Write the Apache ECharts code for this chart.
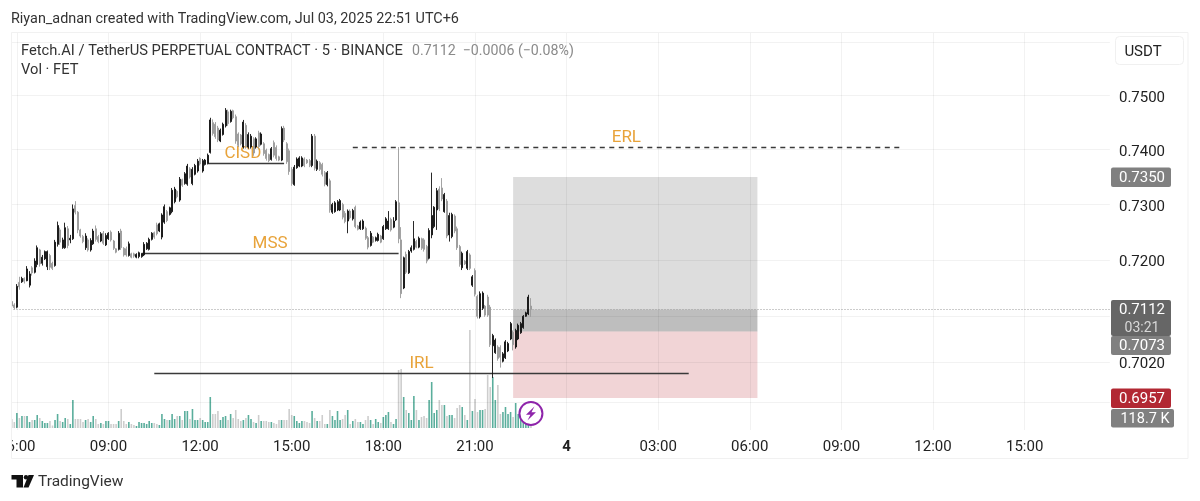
<!DOCTYPE html>
<html><head><meta charset="utf-8">
<script src="https://cdn.jsdelivr.net/npm/echarts@6/dist/echarts.min.js"></script>
<style>html,body{margin:0;padding:0;background:#fff}#c{width:1200px;height:501px}</style>
</head><body><div id="c"></div>
<script>
const opens=[.7126,.7120,.7116,.7160,.7161,.7167,.7163,.7155,.7186,.7178,.7192,.7218,.7194,.7202,.7188,.7208,.7194,.7190,.7228,.7254,.7222,.7222,.7256,.7236,.7238,.7298,.7286,.7254,.7242,.7222,.7236,.7218,.7229,.7256,.7242,.7234,.7248,.7227,.7238,.7250,.7234,.7220,.7219,.7252,.7221,.7220,.7208,.7211,.7211,.7205,.7206,.7206,.7209,.7220,.7219,.7237,.7249,.7263,.7252,.7241,.7268,.7287,.7282,.7287,.7305,.7324,.7308,.7345,.7338,.7337,.7365,.7338,.7355,.7361,.7384,.7361,.7373,.7375,.7395,.7450,.7447,.7440,.7416,.7428,.7444,.7470,.7452,.7472,.7461,.7429,.7427,.7405,.7445,.7405,.7405,.7420,.7405,.7431,.7410,.7411,.7399,.7391,.7382,.7413,.7404,.7387,.7381,.7440,.7411,.7398,.7364,.7336,.7367,.7370,.7370,.7383,.7381,.7380,.7371,.7425,.7364,.7376,.7373,.7358,.7336,.7343,.7286,.7287,.7290,.7290,.7300,.7284,.7270,.7288,.7274,.7295,.7261,.7256,.7256,.7257,.7240,.7226,.7241,.7235,.7235,.7243,.7238,.7256,.7256,.7273,.7259,.7272,.7303,.7236,.7150,.7210,.7177,.7216,.7219,.7233,.7223,.7238,.7236,.7224,.7203,.7245,.7260,.7290,.7328,.7330,.7287,.7306,.7245,.7242,.7279,.7256,.7224,.7186,.7198,.7185,.7209,.7155,.7181,.7135,.7099,.7114,.7118,.7134,.7116,.7048,.7036,.7046,.7045,.7021,.7027,.7039,.7060,.7072,.7046,.7060,.7071,.7080,.7100,.7104,.7118];
const closes=[.7118,.7115,.7153,.7152,.7167,.7162,.7184,.7175,.7177,.7198,.7222,.7193,.7205,.7215,.7215,.7187,.7185,.7232,.7262,.7232,.7236,.7258,.7226,.7239,.7292,.7286,.7254,.7243,.7233,.7243,.7218,.7235,.7252,.7237,.7233,.7247,.7230,.7244,.7248,.7236,.7221,.7214,.7248,.7222,.7209,.7209,.7229,.7205,.7207,.7210,.7213,.7211,.7228,.7230,.7237,.7248,.7241,.7247,.7265,.7281,.7296,.7271,.7294,.7326,.7328,.7314,.7346,.7335,.7356,.7370,.7350,.7364,.7371,.7379,.7374,.7380,.7381,.7390,.7455,.7430,.7424,.7418,.7436,.7447,.7473,.7448,.7471,.7459,.7416,.7408,.7411,.7451,.7406,.7428,.7425,.7394,.7420,.7406,.7429,.7393,.7384,.7380,.7402,.7390,.7384,.7381,.7439,.7418,.7378,.7360,.7338,.7368,.7383,.7385,.7385,.7371,.7376,.7371,.7425,.7366,.7379,.7364,.7355,.7337,.7358,.7290,.7300,.7303,.7305,.7307,.7277,.7269,.7288,.7276,.7289,.7260,.7255,.7268,.7270,.7239,.7223,.7248,.7232,.7240,.7246,.7232,.7260,.7274,.7270,.7254,.7270,.7305,.7238,.7140,.7204,.7178,.7215,.7222,.7238,.7223,.7239,.7221,.7219,.7198,.7253,.7280,.7295,.7325,.7292,.7310,.7318,.7243,.7280,.7282,.7252,.7222,.7192,.7212,.7193,.7215,.7185,.7170,.7139,.7100,.7140,.7141,.7102,.7102,.7050,.7066,.7058,.7026,.7028,.7034,.7055,.7052,.7087,.7050,.7075,.7084,.7087,.7100,.7106,.7134,.7112];
const lows=[.7114,.7112,.7114,.7147,.7159,.7158,.7162,.7151,.7172,.7176,.7187,.7188,.7190,.7200,.7182,.7182,.7182,.7188,.7224,.7227,.7220,.7220,.7221,.7230,.7236,.7282,.7248,.7240,.7230,.7218,.7215,.7215,.7227,.7233,.7230,.7232,.7227,.7225,.7236,.7233,.7218,.7212,.7217,.7218,.7206,.7206,.7206,.7203,.7204,.7203,.7203,.7204,.7207,.7218,.7217,.7235,.7238,.7244,.7250,.7237,.7265,.7268,.7280,.7284,.7302,.7311,.7305,.7332,.7336,.7334,.7347,.7335,.7353,.7358,.7371,.7358,.7371,.7373,.7393,.7426,.7420,.7414,.7414,.7426,.7441,.7444,.7450,.7456,.7411,.7405,.7408,.7402,.7402,.7402,.7402,.7389,.7402,.7402,.7408,.7389,.7380,.7377,.7380,.7386,.7380,.7379,.7379,.7414,.7374,.7354,.7334,.7334,.7365,.7368,.7368,.7368,.7374,.7368,.7368,.7362,.7361,.7361,.7351,.7333,.7333,.7285,.7283,.7285,.7288,.7288,.7273,.7266,.7248,.7273,.7271,.7257,.7253,.7254,.7254,.7236,.7219,.7224,.7230,.7233,.7233,.7230,.7236,.7254,.7254,.7251,.7257,.7270,.7230,.7132,.7148,.7175,.7175,.7213,.7217,.7221,.7221,.7218,.7215,.7194,.7201,.7239,.7257,.7254,.7288,.7306,.7285,.7239,.7233,.7239,.7248,.7218,.7188,.7182,.7191,.7182,.7182,.7152,.7135,.7096,.7096,.7111,.7099,.7099,.7046,.6992,.7034,.7022,.7010,.7019,.7025,.7037,.7058,.7040,.7043,.7058,.7069,.7078,.7099,.7102,.7099];
const highs=[.7129,.7123,.7157,.7170,.7170,.7169,.7189,.7180,.7189,.7203,.7226,.7220,.7209,.7217,.7217,.7211,.7197,.7236,.7269,.7258,.7240,.7267,.7261,.7245,.7300,.7306,.7288,.7256,.7245,.7248,.7239,.7239,.7256,.7262,.7245,.7250,.7252,.7248,.7250,.7253,.7236,.7221,.7252,.7256,.7223,.7224,.7233,.7213,.7213,.7212,.7215,.7212,.7232,.7232,.7240,.7250,.7251,.7267,.7267,.7284,.7300,.7290,.7296,.7330,.7332,.7326,.7350,.7347,.7359,.7374,.7368,.7368,.7374,.7383,.7386,.7383,.7383,.7393,.7459,.7456,.7451,.7444,.7439,.7450,.7477,.7474,.7474,.7474,.7465,.7432,.7429,.7455,.7449,.7432,.7429,.7423,.7423,.7435,.7432,.7414,.7402,.7393,.7405,.7417,.7408,.7389,.7443,.7444,.7414,.7402,.7368,.7372,.7386,.7388,.7388,.7386,.7383,.7383,.7429,.7429,.7382,.7379,.7376,.7361,.7361,.7347,.7303,.7306,.7308,.7310,.7303,.7288,.7291,.7291,.7292,.7298,.7263,.7271,.7273,.7260,.7243,.7252,.7243,.7242,.7249,.7245,.7263,.7277,.7288,.7276,.7277,.7308,.7405,.7259,.7206,.7215,.7218,.7226,.7270,.7236,.7242,.7240,.7239,.7227,.7257,.7358,.7297,.7330,.7333,.7348,.7321,.7310,.7285,.7285,.7282,.7260,.7227,.7215,.7200,.7218,.7212,.7173,.7185,.7138,.7144,.7144,.7120,.7138,.7120,.7069,.7061,.7049,.7049,.7037,.7058,.7055,.7090,.7075,.7078,.7087,.7090,.7102,.7108,.7138,.7132];
const volumes=[108,72,180,120,144,144,144,72,96,96,156,120,84,60,60,84,30,96,168,84,72,120,108,48,336,108,108,108,72,96,108,72,144,108,48,60,48,84,84,48,48,48,84,228,84,48,72,48,36,24,72,60,60,48,84,60,60,48,36,168,108,96,96,168,108,144,144,96,204,204,108,228,96,96,120,96,72,72,372,168,168,204,96,132,144,96,168,120,216,108,84,96,120,156,108,72,60,156,84,84,84,72,72,60,48,96,96,96,96,228,156,144,84,60,84,84,72,60,204,120,84,84,156,48,48,216,144,96,204,96,108,156,216,48,84,108,72,72,48,96,144,96,48,108,72,60,132,156,192,72,48,108,696,708,372,216,180,96,384,216,96,132,144,120,336,552,180,216,336,276,276,144,156,156,120,240,276,252,156,96,1176,204,348,192,216,216,228,636,492,612,336,516,168,192,252,168,192,132,300,168,120,84,60,72,118.7];
const gridPrices=[.76,.75,.74,.73,.72,.71,.702,.695];
const priceTicks=[.75,.74,.73,.72,.702];
const lastPrice=.7112, targetPrice=.7350, entryPrice=.7073, stopPrice=.6957;
const titleText='Riyan_adnan created with TradingView.com, Jul 03, 2025 22:51 UTC+6';
const legendMain='Fetch.AI / TetherUS PERPETUAL CONTRACT · 5 · BINANCE';
const legendQuote='0.7112  −0.0006 (−0.08%)';
const legendVol='Vol · FET';

const TOTAL=432, START=5*60+50;
const cats=[];
for(let i=0;i<TOTAL;i++){const m=START+i*5;const d=Math.floor(m/1440);const hh=Math.floor(m/60)%24,mm=m%60;
 cats.push((d?'Jul 4 ':'Jul 3 ')+String(hh).padStart(2,'0')+':'+String(mm).padStart(2,'0'));}
const isTick=(idx)=>{const m=START+idx*5;return m%180===0;};
const tickIdx=[];for(let i=0;i<TOTAL;i++)if(isTick(i))tickIdx.push(i);
const candle=opens.map((o,i)=>[o,closes[i],lows[i],highs[i]]);
const UP='#111111',DOWN='#9a9a9a',VUP='#5aae9c',VDOWN='#cdcdcd',ORANGE='#e8a33a',LINE='#3a3a3a',GRID='rgba(0,0,0,.05)';
const FONT='Roboto, sans-serif';
const noSym=['none','none'];
function level(name,i1,i2,p,dash,off){return [{coord:[i1,p],name:name,lineStyle:{color:LINE,width:1.4,type:dash?[5,4.5]:'solid'},
 label:{show:!!name,formatter:name,position:'middle',color:ORANGE,fontSize:17,fontFamily:FONT,distance:1,offset:[off||0,0]}},{coord:[i2,p]}];}
const chart=echarts.init(document.getElementById('c'));
chart.setOption({
 animation:false,backgroundColor:'#fff',
 grid:[{left:10.5,width:1099.4,top:32,height:398,outerBoundsMode:'none'},{left:10.5,width:1099.4,top:300,height:128,outerBoundsMode:'none'}],
 xAxis:[{type:'category',data:cats,gridIndex:0,boundaryGap:true,axisLine:{show:false},axisTick:{show:false},
   splitLine:{show:false},
   axisLabel:{interval:(i)=>isTick(i),margin:10,color:'#222',fontFamily:FONT,fontSize:15,hideOverlap:false,
    formatter:(v)=>{const t=v.slice(-5);return t==='00:00'?'{b|4}':t;},rich:{b:{fontWeight:'bold',fontSize:15,color:'#222',fontFamily:FONT}}}},
  {type:'category',data:cats,gridIndex:1,show:false}],
 yAxis:[{type:'log',logBase:10,gridIndex:0,min:.69021,max:.76197,show:false},
  {type:'value',gridIndex:1,min:0,max:1536,show:false}],
 series:[{type:'candlestick',name:'FET',xAxisIndex:0,yAxisIndex:0,data:candle,barWidth:1.5,z:5,
   itemStyle:{color:UP,color0:DOWN,borderColor:UP,borderColor0:DOWN,borderWidth:0.9},
   markArea:{silent:true,data:[
    [{coord:[197,targetPrice],itemStyle:{color:'rgba(120,120,120,.25)'}},{coord:[293,lastPrice]}],
    [{coord:[197,lastPrice],itemStyle:{color:'rgba(100,100,100,.42)'}},{coord:[293,entryPrice]}],
    [{coord:[197,entryPrice],itemStyle:{color:'rgba(190,60,70,.22)'}},{coord:[293,stopPrice]}]]},
   markLine:{silent:true,symbol:noSym,animation:false,precision:6,data:[
    ...gridPrices.map(p=>({yAxis:p,lineStyle:{color:GRID,width:1,type:'solid'},label:{show:false}})),
    ...tickIdx.map(i=>({xAxis:i,lineStyle:{color:GRID,width:1,type:'solid'},label:{show:false}})),
    {yAxis:lastPrice,lineStyle:{color:'#999',width:1,type:[1,2]},label:{show:false}},
    level('CISD',77,107,.73757,false,-3),level('MSS',51,152,.7212),level('IRL',56,266,.7001),level('ERL',134,349,.7404,true)]}},
  {type:'bar',name:'Vol',xAxisIndex:1,yAxisIndex:1,barWidth:1.6,z:2,
   data:volumes.map((v,i)=>({value:v,itemStyle:{color:closes[i]>=opens[i]?VUP:VDOWN}}))}]
});
const py=(p)=>chart.convertToPixel({yAxisIndex:0},p);
const px=(i)=>chart.convertToPixel({xAxisIndex:0},i);
const T=(text,x,y,font,fill,align)=>({type:'text',z:200,silent:true,style:{text,x,y:y+1.5,font,fill,align:align||'left',verticalAlign:'middle'}});
const tag=(x,y,w,h,fill)=>({type:'rect',z:190,silent:true,shape:{x,y,width:w,height:h,r:2},style:{fill}});
const g=[];
g.push({type:'rect',z:180,silent:true,shape:{x:0,y:28,width:11.5,height:430},style:{fill:'#fff'}});
g.push({type:'rect',z:181,silent:true,shape:{x:11.5,y:32.5,width:1176.5,height:426},style:{fill:'none',stroke:'#f1f1f1',lineWidth:1}});
g.push(T(titleText,11,17.5,'14.4px '+FONT,'#333'));
g.push(T(legendMain,21,50,'14.7px '+FONT,'#333'));
g.push(T(legendQuote,412,50,'14.2px '+FONT,'#8a8a8a'));
g.push(T(legendVol,21,69,'14.7px '+FONT,'#333'));
g.push({type:'rect',z:190,silent:true,shape:{x:1115.5,y:36.5,width:68,height:28,r:4},style:{fill:'#fff',stroke:'#f0f0f0',lineWidth:1}});
g.push(T('USDT',1143,51,'15px '+FONT,'#222','center'));
priceTicks.forEach(p=>g.push(T(p.toFixed(4),1142,py(p)+1,'15px '+FONT,'#222','center')));
const TX=1111,TW=60,TH=19.5;
g.push(tag(TX,py(targetPrice)-9.5,TW,TH,'#808080'));
g.push(T(targetPrice.toFixed(4),1142,py(targetPrice),'15px '+FONT,'#fff','center'));
g.push(tag(TX,300,TW,36,'#666666'));
g.push(T(lastPrice.toFixed(4),1142,py(lastPrice)-.5,'15px '+FONT,'#fff','center'));
g.push(T('03:21',1142,327,'14px '+FONT,'#d8d8d8','center'));
g.push(tag(TX,336,TW,19,'#808080'));
g.push(T(entryPrice.toFixed(4),1142,345,'15px '+FONT,'#fff','center'));
g.push(tag(TX,py(stopPrice)-9.5,TW,TH,'#b22833'));
g.push(T(stopPrice.toFixed(4),1142,py(stopPrice),'15px '+FONT,'#fff','center'));
g.push(tag(TX,409,63,18.5,'#808080'));
g.push(T('118.7 K',1145,418,'14.5px '+FONT,'#fff','center'));
const cx=px(204),cy=413.5;
g.push({type:'circle',z:195,silent:true,shape:{cx,cy,r:11.5},style:{fill:'#fff',stroke:'#8e24aa',lineWidth:2}});
g.push({type:'polygon',z:196,silent:true,shape:{points:[[cx+3.5,cy-7],[cx-5,cy+1.2],[cx-.5,cy+1.2],[cx-3.5,cy+7],[cx+5,cy-1.2],[cx+.5,cy-1.2]]},style:{fill:'#8e24aa'}});
g.push({type:'polygon',z:190,silent:true,shape:{points:[[11.5,475],[23,475],[23,487.5],[16.5,487.5],[16.5,479.5],[11.5,479.5]]},style:{fill:'#111'}});
g.push({type:'circle',z:190,silent:true,shape:{cx:26,cy:477.2,r:2.2},style:{fill:'#111'}});
g.push({type:'polygon',z:190,silent:true,shape:{points:[[28.5,475],[34,475],[28.5,487.5],[23.5,487.5]]},style:{fill:'#111'}});
g.push(T('TradingView',38,481,'15.5px '+FONT,'#333'));
chart.setOption({graphic:g});
</script></body></html>
